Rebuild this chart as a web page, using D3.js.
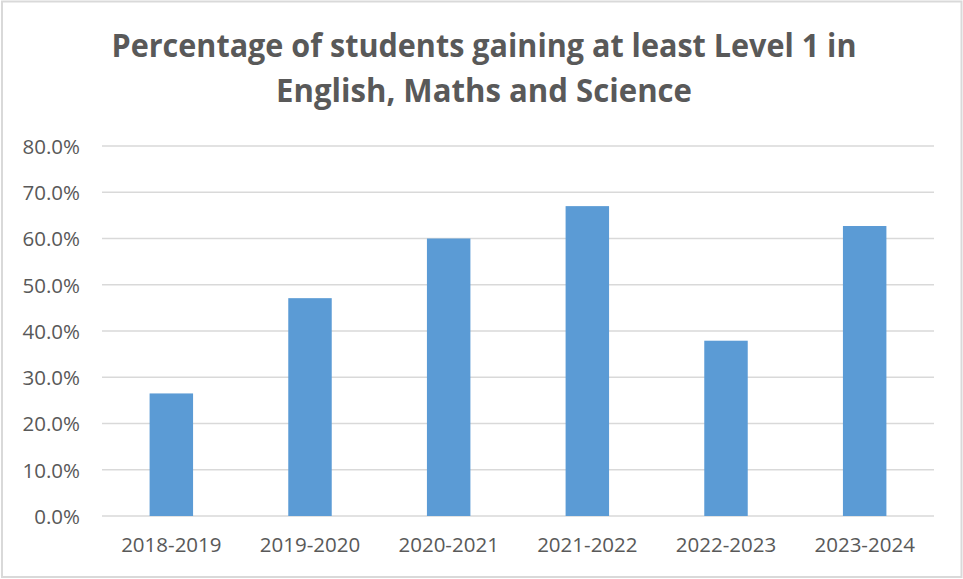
<!DOCTYPE html>
<html>
<head>
<meta charset="utf-8">
<script src="https://cdn.jsdelivr.net/npm/d3@7"></script>
<style>
  body { margin: 0; background: #fff; }
</style>
</head>
<body>
<div id="chart"></div>
<script>
// chart data
const years = ["2018-2019", "2019-2020", "2020-2021", "2021-2022", "2022-2023", "2023-2024"]
const percents = [26.5, 47.1, 60.0, 67.0, 37.9, 62.7]
const yTicks = [0, 10, 20, 30, 40, 50, 60, 70, 80]
const titleLines = ["Percentage of students gaining at least Level 1 in", "English, Maths and Science"]

const W = 963, H = 579
const plot = { left: 102, right: 934, top: 146, bottom: 516 }

let svg = d3.select("#chart")
    .append("svg")
    .attr("width", W)
    .attr("height", H)

// outer frame
svg.append("rect")
    .attr("x", 2).attr("y", 1.5)
    .attr("width", 959.5).attr("height", 575.5)
    .attr("fill", "#fff")
    .attr("stroke", "#d9d9d9")
    .attr("stroke-width", 2)

// title
svg.append("g")
    .selectAll("text")
    .data(titleLines)
    .enter()
    .append("text")
        .attr("x", 484)
        .attr("y", (d, i) => 57 + i * 45)
        .attr("text-anchor", "middle")
        .attr("font-family", "'Open Sans', sans-serif")
        .attr("font-weight", "bold")
        .attr("font-size", 32)
        .attr("fill", "#595959")
        .attr("textLength", (d, i) => i === 0 ? 745 : 416)
        .attr("lengthAdjust", "spacingAndGlyphs")
        .text(d => d)

let x = d3.scaleBand()
    .domain(years)
    .range([plot.left, plot.right])
    .padding(0)

let y = d3.scaleLinear()
    .domain([0, 80])
    .range([plot.bottom, plot.top])

// gridlines
svg.append("g")
    .selectAll("line")
    .data(yTicks)
    .enter()
    .append("line")
        .attr("x1", plot.left)
        .attr("x2", plot.right)
        .attr("y1", d => y(d))
        .attr("y2", d => y(d))
        .attr("stroke", "#d9d9d9")
        .attr("stroke-width", 1.5)

// y axis labels
let yAxis = svg.append("g")
    .attr("transform", `translate(${plot.left - 22},0)`)
    .call(d3.axisLeft(y).tickValues(yTicks).tickSize(0).tickPadding(0).tickFormat(d => d.toFixed(1) + "%"))
yAxis.select(".domain").remove()
yAxis.selectAll("text")
    .attr("font-family", "'Open Sans', sans-serif")
    .attr("font-size", 20.5)
    .attr("fill", "#595959")
    .attr("dy", "0.36em")

// bars (Excel gap width ~219%)
const barW = x.bandwidth() / 3.19
svg.append("g")
    .selectAll("rect")
    .data(percents)
    .enter()
    .append("rect")
        .attr("x", (d, i) => x(years[i]) + (x.bandwidth() - barW) / 2)
        .attr("y", d => y(d))
        .attr("width", barW)
        .attr("height", d => y(0) - y(d))
        .attr("fill", "#5b9bd5")

// x axis labels
let xAxis = svg.append("g")
    .attr("transform", `translate(0,${plot.bottom + 24})`)
    .call(d3.axisBottom(x).tickSize(0).tickPadding(0))
xAxis.select(".domain").remove()
xAxis.selectAll("text")
    .attr("font-family", "'Open Sans', sans-serif")
    .attr("font-size", 20.5)
    .attr("fill", "#595959")
    .attr("dy", "0.6em")
</script>
</body>
</html>
